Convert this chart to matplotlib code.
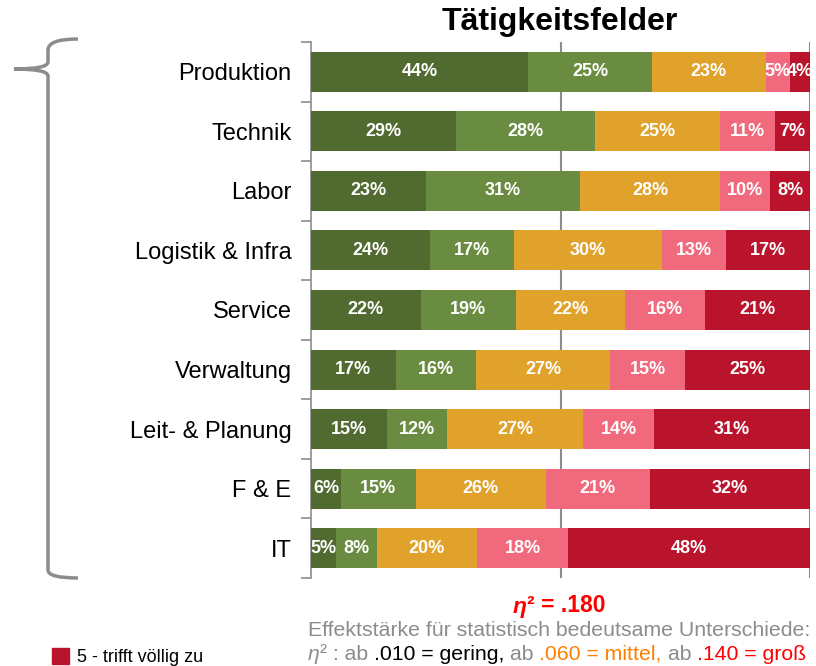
import matplotlib.pyplot as plt
import numpy as np
from matplotlib.path import Path
from matplotlib.patches import PathPatch, Rectangle

plt.rcParams['font.family'] = ['Liberation Sans', 'DejaVu Sans']

categories = ['Produktion', 'Technik', 'Labor', 'Logistik & Infra', 'Service',
              'Verwaltung', 'Leit- & Planung', 'F & E', 'IT']
s1 = [44, 29, 23, 24, 22, 17, 15, 6, 5]
s2 = [25, 28, 31, 17, 19, 16, 12, 15, 8]
s3 = [23, 25, 28, 30, 22, 27, 27, 26, 20]
s4 = [5, 11, 10, 13, 16, 15, 14, 21, 18]
s5 = [4, 7, 8, 17, 21, 25, 31, 32, 48]
colors = ['#506A2F', '#6A8C40', '#E0A22A', '#F0697D', '#BA142C']
legend_label = '5 - trifft völlig zu'
eta_value = '.180'

W, H = 816, 666
fig = plt.figure(figsize=(W / 100, H / 100), dpi=100)
ax = fig.add_axes([311 / W, 1 - 578 / H, 499 / W, 536 / H])

data = np.array([s1, s2, s3, s4, s5], float)
widths = data / data.sum(axis=0) * 100  # rows are rounded, scale to 100%
y = np.arange(len(categories))
left = np.zeros(len(categories))
for k in range(5):
    ax.barh(y, widths[k], left=left, height=0.67, color=colors[k], zorder=3)
    for i in range(len(categories)):
        ax.text(left[i] + widths[k][i] / 2, y[i], f'{int(data[k][i])}%',
                ha='center', va='center', color='white', fontsize=13,
                fontweight='bold', zorder=4)
    left += widths[k]

ax.set_xlim(0, 100)
ax.set_ylim(len(categories) - 0.5, -0.5)
ax.set_yticks(y)
ax.set_yticklabels(categories, fontsize=17)
ax.set_yticks(np.arange(-0.5, len(categories)), minor=True)
ax.tick_params(axis='y', which='major', length=0, pad=14)
ax.tick_params(axis='y', which='minor', length=7, color='#8C8C8C', width=1.2)
ax.set_xticks([])
for x in [50, 100]:
    ax.axvline(x, color='#8C8C8C', lw=1.5, zorder=1)
for s in ['top', 'bottom', 'right']:
    ax.spines[s].set_visible(False)
ax.spines['left'].set_color('#8C8C8C')
ax.spines['left'].set_linewidth(1.2)

fig.text(560 / W, 1 - 22 / H, 'Tätigkeitsfelder', ha='center', va='center',
         fontsize=23, fontweight='bold')


def px(x, yy):
    return (x / W, 1 - yy / H)


# curly bracket on the left
verts = [px(78, 39), px(48, 39), px(48, 50), px(48, 62), px(48, 69), px(14, 69),
         px(48, 69), px(48, 76), px(48, 570), px(48, 578), px(78, 578)]
codes = [Path.MOVETO, Path.CURVE3, Path.CURVE3, Path.LINETO, Path.CURVE3, Path.CURVE3,
         Path.CURVE3, Path.CURVE3, Path.LINETO, Path.CURVE3, Path.CURVE3]
fig.add_artist(PathPatch(Path(verts, codes), transform=fig.transFigure,
                         fill=False, edgecolor='#8C8C8C', lw=2.5))

# effect size text
fig.canvas.draw()
renderer = fig.canvas.get_renderer()


def pieces(x0, yy, parts, size):
    x = x0
    for txt, col, kw in parts:
        t = fig.text(x / W, 1 - yy / H, txt, color=col, fontsize=size,
                     va='center', ha='left', **kw)
        x += t.get_window_extent(renderer).width


pieces(513, 606, [('η', '#FF0000', dict(fontweight='bold', style='italic')),
                  ('² = ' + eta_value, '#FF0000', dict(fontweight='bold'))], 16.5)

grey = '#8C8C8C'
fig.text(810 / W, 1 - 631 / H, 'Effektstärke für statistisch bedeutsame Unterschiede:',
         ha='right', va='center', fontsize=15.3, color=grey)
pieces(308, 654, [('η', grey, dict(style='italic')), ('²', grey, {}),
                  (' : ab ', grey, {}), ('.010 = gering, ', 'black', {}),
                  ('ab ', grey, {}), ('.060 = mittel, ', '#FF7F00', {}),
                  ('ab ', grey, {}), ('.140 = groß', '#FF0000', {})], 15.3)

fig.add_artist(Rectangle(px(52, 664), 17 / W, 16 / H, transform=fig.transFigure,
                         color=colors[4]))
fig.text(77 / W, 1 - 657 / H, legend_label, ha='left', va='center', fontsize=13)

fig.savefig('out.png', dpi=100)
